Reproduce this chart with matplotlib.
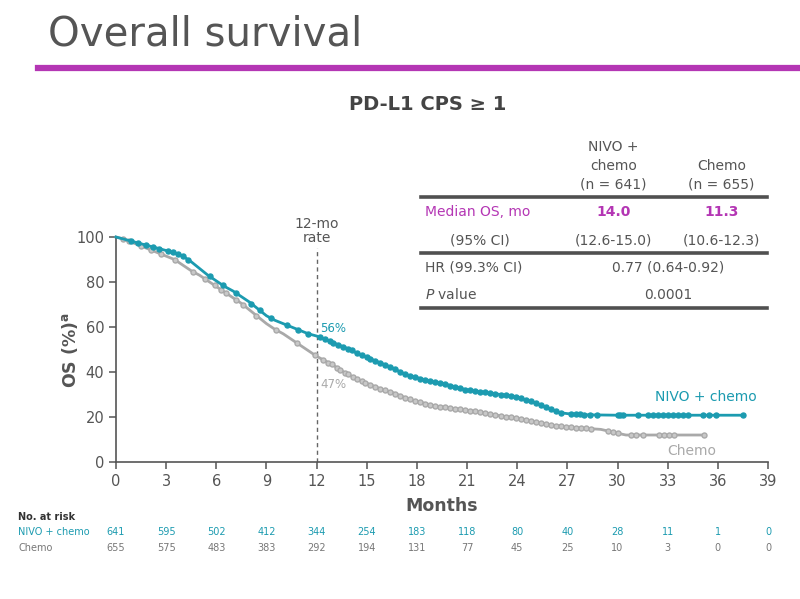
import numpy as np
import matplotlib.pyplot as plt
from matplotlib.lines import Line2D
from matplotlib.transforms import blended_transform_factory

# KM curves (month, OS %)
nivo_t = [0, 0.5, 1, 1.5, 2, 2.5, 3, 3.5, 4, 4.5, 5, 5.5, 6, 6.5, 7, 7.5, 8, 8.5, 9, 9.5,
          10, 10.5, 11, 11.5, 12, 12.5, 13, 13.5, 14, 14.5, 15, 15.5, 16, 16.5, 17, 17.5,
          18, 18.5, 19, 19.5, 20, 20.5, 21, 21.5, 22, 22.5, 23, 23.5, 24, 24.5, 25, 25.5,
          26, 26.5, 27, 28, 30, 37.6]
nivo_s = [100, 99, 98, 97, 96, 95, 94, 93, 91.5, 89, 86, 83, 80.5, 78, 76, 73.5, 71, 68, 65, 63,
          61.5, 60, 58.5, 57, 56, 54.5, 53, 51.5, 50, 48, 46.5, 45, 43.5, 42, 40, 38.5,
          37.5, 36.5, 35.5, 35, 34, 33, 32, 31.5, 31, 30.5, 30, 29.5, 29, 27.5, 26.5, 25,
          23.5, 22, 21.5, 21, 20.8, 20.8]
chemo_t = [0, 0.5, 1, 1.5, 2, 2.5, 3, 3.5, 4, 4.5, 5, 5.5, 6, 6.5, 7, 7.5, 8, 8.5, 9, 9.5,
           10, 10.5, 11, 11.5, 12, 12.5, 13, 13.5, 14, 14.5, 15, 15.5, 16, 16.5, 17, 17.5,
           18, 18.5, 19, 19.5, 20, 20.5, 21, 22, 23, 24, 25, 26, 27, 28, 29, 30, 30.5, 35.2]
chemo_s = [100, 99, 97.5, 96, 94.5, 93, 91.5, 90, 87.5, 85, 83, 80.5, 78, 75.5, 73, 70.5, 67.5, 64.5, 61.5, 59,
           57, 54.5, 52, 49.5, 47, 45, 43, 40.5, 38.5, 36.5, 35, 33.5, 32, 31, 29.5, 28,
           27, 26, 25, 24.5, 24, 23.5, 23, 22, 20.5, 19.5, 18, 16.5, 15.5, 15, 14.5, 12.8, 12, 12]

# censoring ticks (months)
nivo_cens = [0.9, 1.3, 1.8, 2.2, 2.6, 3.1, 3.4, 3.7, 4.0, 4.3, 5.6, 6.4, 7.2, 8.1, 8.6, 9.3,
             10.2, 10.9, 11.5,
             12.2, 12.5, 12.8, 13.0, 13.3, 13.6, 13.9, 14.1, 14.4, 14.7, 15.0, 15.2, 15.5, 15.8,
             16.1, 16.4, 16.7, 17.0, 17.3, 17.6, 17.9, 18.2, 18.5, 18.8, 19.1, 19.4, 19.7, 20.0,
             20.3, 20.6, 20.9, 21.2, 21.5, 21.8, 22.1, 22.4, 22.7, 23.0, 23.3, 23.6, 23.9, 24.2,
             24.5, 24.8, 25.1, 25.4, 25.7, 26.0, 26.3, 26.6,
             27.2, 27.5, 27.75, 28.0, 28.35, 28.8, 30.0, 30.15, 30.3, 31.2, 31.8, 32.1, 32.4,
             32.7, 33.0, 33.3, 33.6, 33.9, 34.2, 35.1, 35.5, 35.9, 37.5]
chemo_cens = [0.4, 0.8, 1.5, 2.1, 2.7, 3.5, 4.6, 5.3, 5.9, 6.3, 6.6, 7.2, 7.6, 8.4, 9.6, 10.8,
              11.9,
              12.4, 12.7, 12.9, 13.2, 13.4, 13.7, 13.9, 14.2, 14.4, 14.7, 14.9, 15.2, 15.5, 15.8,
              16.1, 16.4, 16.7, 17.0, 17.3, 17.6, 17.9, 18.2, 18.5, 18.8, 19.1, 19.4, 19.7, 20.0,
              20.3, 20.6, 20.9, 21.2, 21.5, 21.8, 22.1, 22.4, 22.7, 23.0, 23.3, 23.6, 23.9, 24.2,
              24.5, 24.8, 25.1, 25.4, 25.7, 26.0, 26.3, 26.6, 26.9, 27.2, 27.5, 27.8, 28.1, 28.4,
              29.4, 29.7, 30.0, 30.8, 31.1, 31.5, 32.5, 32.8, 33.1, 33.4, 35.2]

risk_months = list(range(0, 40, 3))
nivo_risk = [641, 595, 502, 412, 344, 254, 183, 118, 80, 40, 28, 11, 1, 0]
chemo_risk = [655, 575, 483, 383, 292, 194, 131, 77, 45, 25, 10, 3, 0, 0]

TEAL = '#1c9bb0'
GRAY = '#a9a9a9'
PURPLE = '#b436b4'
DARK = '#555555'

plt.rcParams['font.family'] = ['DejaVu Sans']

fig = plt.figure(figsize=(8, 5.99), dpi=100)
fig.patch.set_facecolor('white')

# slide title + rule
fig.text(0.06, 0.942, 'Overall survival', fontsize=29, color=DARK,
         family=['Liberation Sans Narrow', 'DejaVu Sans'], va='center', ha='left')
fig.add_artist(Line2D([0.047, 1.0], [0.887, 0.887], color=PURPLE, lw=4.5))
fig.text(0.535, 0.826, 'PD-L1 CPS \u2265 1', fontsize=14, fontweight='bold', color='#444444',
         ha='center', va='center')

ax = fig.add_axes([0.145, 0.2287, 0.815, 0.3756])

ax.plot(nivo_t, nivo_s, color=TEAL, lw=2.0, clip_on=False, zorder=3)
ax.plot(chemo_t, chemo_s, color=GRAY, lw=2.0, clip_on=False, zorder=2)
ax.plot(nivo_cens, np.interp(nivo_cens, nivo_t, nivo_s), 'o', ms=3.6, color=TEAL,
        mec=TEAL, clip_on=False, zorder=3)
ax.plot(chemo_cens, np.interp(chemo_cens, chemo_t, chemo_s), 'o', ms=3.6, mfc='#c8c8c8',
        mec=GRAY, mew=1, clip_on=False, zorder=2)

ax.plot([12, 12], [0, 95], ls=(0, (3, 2.5)), color='#666666', lw=1, clip_on=False, zorder=1)
ax.text(12, 96.3, '12-mo\nrate', ha='center', va='bottom', fontsize=10, color=DARK,
        linespacing=1.05)
ax.text(12.2, 59.5, '56%', color=TEAL, fontsize=8.5, ha='left', va='center')
ax.text(12.2, 34.5, '47%', color=GRAY, fontsize=8.5, ha='left', va='center')
ax.text(38.3, 29, 'NIVO + chemo', color=TEAL, fontsize=10, ha='right', va='center')
ax.text(35.9, 4.8, 'Chemo', color=GRAY, fontsize=10, ha='right', va='center')

ax.set_xlim(0, 39)
ax.set_ylim(0, 100)
ax.set_xticks(risk_months)
ax.set_yticks([0, 20, 40, 60, 80, 100])
for side in ['top', 'right']:
    ax.spines[side].set_visible(False)
for side in ['left', 'bottom']:
    ax.spines[side].set_color(DARK)
    ax.spines[side].set_linewidth(1.2)
ax.tick_params(colors=DARK, labelsize=10.5, length=5, width=1.1)
ax.set_xlabel('Months', fontsize=12.5, fontweight='bold', color=DARK, labelpad=6)
ax.set_ylabel('OS (%)$^{\\mathregular{a}}$', fontsize=12.5, fontweight='bold', color=DARK)
ax.yaxis.set_label_coords(-0.055, 0.5)

# results table
x0, x1 = 0.526, 0.959
for yy in [0.671, 0.577, 0.486]:
    fig.add_artist(Line2D([x0, x1], [yy, yy], color='#505050', lw=2.6))
fs = 10
for txt, yy in zip(['NIVO +', 'chemo', '(n = 641)'], [0.7546, 0.7229, 0.6912]):
    fig.text(0.767, yy, txt, ha='center', va='center', fontsize=fs, color=DARK)
for txt, yy in zip(['Chemo', '(n = 655)'], [0.7229, 0.6912]):
    fig.text(0.902, yy, txt, ha='center', va='center', fontsize=fs, color=DARK)
fig.text(0.531, 0.646, 'Median OS, mo', ha='left', va='center', fontsize=fs, color=PURPLE)
fig.text(0.767, 0.646, '14.0', ha='center', va='center', fontsize=fs, color=PURPLE,
         fontweight='bold')
fig.text(0.902, 0.646, '11.3', ha='center', va='center', fontsize=fs, color=PURPLE,
         fontweight='bold')
fig.text(0.60, 0.599, '(95% CI)', ha='center', va='center', fontsize=fs, color=DARK)
fig.text(0.767, 0.599, '(12.6-15.0)', ha='center', va='center', fontsize=fs, color=DARK)
fig.text(0.902, 0.599, '(10.6-12.3)', ha='center', va='center', fontsize=fs, color=DARK)
fig.text(0.531, 0.553, 'HR (99.3% CI)', ha='left', va='center', fontsize=fs, color=DARK)
fig.text(0.835, 0.553, '0.77 (0.64-0.92)', ha='center', va='center', fontsize=fs, color=DARK)
fig.text(0.531, 0.508, '$\\it{P}$ value', ha='left', va='center', fontsize=fs, color=DARK)
fig.text(0.835, 0.508, '0.0001', ha='center', va='center', fontsize=fs, color=DARK)

# number at risk
trans = blended_transform_factory(ax.transData, fig.transFigure)
fig.text(0.023, 0.137, 'No. at risk', fontsize=7, fontweight='bold', color='#333333',
         va='center')
fig.text(0.023, 0.112, 'NIVO + chemo', fontsize=7, color=TEAL, va='center')
fig.text(0.023, 0.0856, 'Chemo', fontsize=7, color='#777777', va='center')
for m, a, b in zip(risk_months, nivo_risk, chemo_risk):
    ax.text(m, 0.112, str(a), transform=trans, fontsize=7, color=TEAL, ha='center',
            va='center', clip_on=False)
    ax.text(m, 0.0856, str(b), transform=trans, fontsize=7, color='#777777', ha='center',
            va='center', clip_on=False)

fig.savefig('out.png', dpi=100)
